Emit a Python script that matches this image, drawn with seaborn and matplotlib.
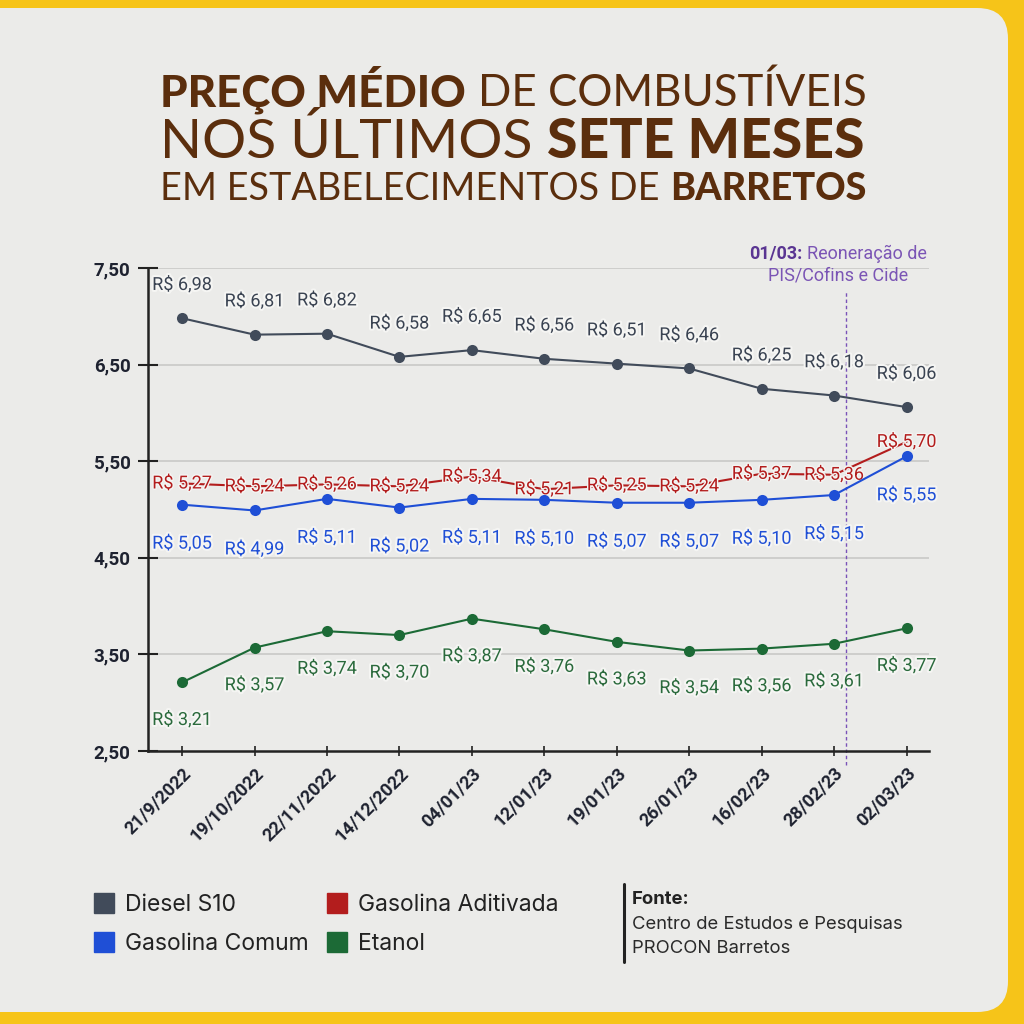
import matplotlib
matplotlib.use('Agg')
import numpy as np
import pandas as pd
import matplotlib.pyplot as plt
import seaborn as sns
from matplotlib.patches import FancyBboxPatch
from matplotlib.lines import Line2D
import matplotlib.patheffects as pe

# Data
datas = ['21/9/2022', '19/10/2022', '22/11/2022', '14/12/2022', '04/01/23', '12/01/23',
         '19/01/23', '26/01/23', '16/02/23', '28/02/23', '02/03/23']
diesel = [6.98, 6.81, 6.82, 6.58, 6.65, 6.56, 6.51, 6.46, 6.25, 6.18, 6.06]
aditivada = [5.27, 5.24, 5.26, 5.24, 5.34, 5.21, 5.25, 5.24, 5.37, 5.36, 5.70]
comum = [5.05, 4.99, 5.11, 5.02, 5.11, 5.10, 5.07, 5.07, 5.10, 5.15, 5.55]
etanol = [3.21, 3.57, 3.74, 3.70, 3.87, 3.76, 3.63, 3.54, 3.56, 3.61, 3.77]
y_ticks = [2.5, 3.5, 4.5, 5.5, 6.5, 7.5]
evento_x = 9.17  # 01/03, between 28/02 and 02/03

# Colors
BG = '#ebebe9'
YELLOW = '#f6c419'
BROWN = '#5b2e0d'
C_DIESEL = '#414b5a'
C_COMUM = '#1f4fd6'
C_ADIT = '#b31d1d'
C_ETANOL = '#1c6a36'
PURPLE = '#7a52b8'
DARK = '#1e2230'

sns.set_theme(style='white')
plt.rcParams['font.family'] = ['Roboto', 'DejaVu Sans']

W = 1024
fig = plt.figure(figsize=(10.24, 10.24), dpi=100, facecolor=YELLOW)

# paper panel with rounded right corners
panel = FancyBboxPatch((-0.1, 12 / W), 0.1 + 1008 / W, 1 - 20 / W,
                       boxstyle='round,pad=0,rounding_size=0.03',
                       transform=fig.transFigure, facecolor=BG, edgecolor='none', zorder=-5)
fig.patches.append(panel)

renderer = fig.canvas.get_renderer()


def draw_runs(parts, x, baseline, size, family, align='left', width=None):
    # parts: list of (text, weight, color); draws them side by side on one baseline
    texts = []
    for s, w, c in parts:
        t = fig.text(0, baseline, s, fontsize=size, fontweight=w, color=c,
                     family=family, va='baseline', ha='left')
        texts.append(t)

    def measure():
        ws = [t.get_window_extent(renderer).width for t in texts]
        gap = 0.27 * texts[0].get_fontsize() * 100 / 72
        return ws, gap

    ws, gap = measure()
    if width is not None:
        total = sum(ws) + gap * (len(ws) - 1)
        f = width / total
        for t in texts:
            t.set_fontsize(t.get_fontsize() * f)
        ws, gap = measure()
    total = sum(ws) + gap * (len(ws) - 1)
    if align == 'center':
        x0 = x * W - total / 2
    else:
        x0 = x * W
    for t, w in zip(texts, ws):
        t.set_x(x0 / W)
        x0 += w + gap
    return texts


# Title
title_family = ['Lato', 'DejaVu Sans']
draw_runs([('PREÇO MÉDIO', 900, BROWN), ('DE COMBUSTÍVEIS', 'normal', BROWN)],
          160 / W, 1 - 106 / W, 28, title_family, width=706)
draw_runs([('NOS ÚLTIMOS', 'normal', BROWN), ('SETE MESES', 900, BROWN)],
          160 / W, 1 - 158 / W, 36, title_family, width=706)
draw_runs([('EM ESTABELECIMENTOS DE', 'normal', BROWN), ('BARRETOS', 900, BROWN)],
          160 / W, 1 - 200 / W, 25, title_family, width=706)

# Chart
ax = fig.add_axes([148 / W, 1 - 751 / W, (929 - 148) / W, (751 - 268) / W])
ax.set_facecolor('none')
x = np.arange(len(datas))

for yv in y_ticks[1:]:
    ax.axhline(yv, color='#c9c9c7', lw=1.2, zorder=0.5)

sns.lineplot(x=x, y=aditivada, color=C_ADIT, lw=1.5, ax=ax, zorder=2)
sns.lineplot(x=x, y=diesel, color=C_DIESEL, lw=1.5, marker='o', markersize=8,
             markeredgewidth=0, ax=ax, zorder=3)
sns.lineplot(x=x, y=comum, color=C_COMUM, lw=1.5, marker='o', markersize=8,
             markeredgewidth=0, ax=ax, zorder=3)
sns.lineplot(x=x, y=etanol, color=C_ETANOL, lw=1.5, marker='o', markersize=8,
             markeredgewidth=0, ax=ax, zorder=3)

halo = [pe.withStroke(linewidth=3, foreground='#f5f5f3')]


def fmt(v):
    return 'R$ ' + f'{v:.2f}'.replace('.', ',')


LBL = 13
for xi, v in zip(x, diesel):
    ax.annotate(fmt(v), (xi, v), xytext=(0, 24), textcoords='offset points',
                ha='center', va='center', fontsize=LBL, color='#3a4352',
                path_effects=halo, zorder=4)
for xi, v in zip(x, aditivada):
    ax.annotate(fmt(v), (xi, v), xytext=(0, 0), textcoords='offset points',
                ha='center', va='center', fontsize=LBL, color=C_ADIT,
                path_effects=[pe.withStroke(linewidth=2, foreground='#f5f5f3')], zorder=2.5)
for xi, v in zip(x, comum):
    ax.annotate(fmt(v), (xi, v), xytext=(0, -28), textcoords='offset points',
                ha='center', va='center', fontsize=LBL, color=C_COMUM,
                path_effects=halo, zorder=4)
for xi, v in zip(x, etanol):
    ax.annotate(fmt(v), (xi, v), xytext=(0, -27), textcoords='offset points',
                ha='center', va='center', fontsize=LBL, color='#2a6a3c',
                path_effects=halo, zorder=4)

# event line
ax.axvline(evento_x, ymin=-0.03, ymax=0.955, color=PURPLE, lw=1, ls=(0, (2.5, 2)),
           clip_on=False, zorder=1.5)
draw_runs([('01/03:', 'bold', '#5a3592'), ('Reoneração de', 'normal', '#7b55b5')],
          838 / W, 1 - 259 / W, 13, ['Roboto', 'DejaVu Sans'], align='center')
draw_runs([('PIS/Cofins e Cide', 'normal', '#7b55b5')],
          838 / W, 1 - 281 / W, 13, ['Roboto', 'DejaVu Sans'], align='center')

ax.set_xlim(-0.47, 10.31)
ax.set_ylim(2.5, 7.5)
ax.set_yticks(y_ticks)
ax.set_yticklabels([f'{v:.2f}'.replace('.', ',') for v in y_ticks],
                   fontsize=13.5, fontweight='bold', color=DARK)
ax.set_xticks(x)
ax.set_xticklabels(datas, rotation=45, ha='right', rotation_mode='anchor',
                   fontsize=13, fontweight='bold', color=DARK)
ax.tick_params(axis='y', direction='inout', length=15, width=1.5, color='#222', pad=5, left=True)
ax.tick_params(axis='x', direction='inout', length=7, width=1.2, color='#222', pad=6, bottom=True)
for side in ['top', 'right']:
    ax.spines[side].set_visible(False)
for side in ['left', 'bottom']:
    ax.spines[side].set_color('#222')
    ax.spines[side].set_linewidth(1.8)
ax.set_xlabel('')
ax.set_ylabel('')

# Legend
handles = [Line2D([], [], ls='none', marker='s', markersize=15, color=c)
           for c in [C_DIESEL, C_COMUM, C_ADIT, C_ETANOL]]
labels = ['Diesel S10', 'Gasolina Comum', 'Gasolina Aditivada', 'Etanol']
fig.legend(handles, labels, ncol=2, loc='upper left', bbox_to_anchor=(72 / W, 1 - 873 / W),
           frameon=False, handlelength=1.0, handletextpad=0.4, columnspacing=0.75,
           labelspacing=0.75, labelcolor='#222', prop={'family': ['Inter', 'DejaVu Sans'], 'size': 16.5})

# Source
src_font = ['Inter', 'DejaVu Sans']
fig.add_artist(Line2D([624 / W, 624 / W], [1 - 884 / W, 1 - 962 / W], color='#222',
                      lw=2.2, transform=fig.transFigure))
fig.text(632 / W, 1 - 904 / W, 'Fonte:', fontsize=13.3, fontweight='bold', color='#222', family=src_font)
fig.text(632 / W, 1 - 929 / W, 'Centro de Estudos e Pesquisas', fontsize=13.3, color='#2a2a2a', family=src_font)
fig.text(632 / W, 1 - 953 / W, 'PROCON Barretos', fontsize=13.3, color='#2a2a2a', family=src_font)

fig.savefig('out.png', dpi=100, facecolor=YELLOW)
